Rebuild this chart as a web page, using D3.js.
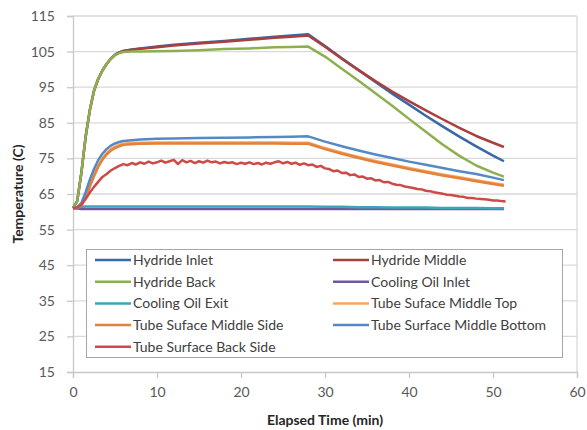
<!DOCTYPE html>
<html>
<head>
<meta charset="utf-8">
<script src="https://cdn.jsdelivr.net/npm/d3@7"></script>
<style>
  body { margin: 0; background: #fff; }
  svg text { font-family: Lato, "Liberation Sans", sans-serif; }
</style>
</head>
<body>
<svg id="chart" width="587" height="430"></svg>
<script>
// --- Data ---
const tSmooth = [0, 0.5, 1, 1.5, 2, 2.5, 3, 3.5, 4, 4.5, 5, 5.5, 6, 7, 8, 10, 12, 15, 18, 21, 24, 26, 28,
  30, 32, 34, 36, 38, 40, 42, 44, 46, 48, 50, 51.3];

const hydrideInlet = [61, 63, 71, 81, 88.5, 94, 97.3, 99.7, 101.5, 103, 104.1, 104.8, 105.2, 105.6, 105.9, 106.4,
  106.9, 107.5, 108, 108.6, 109.2, 109.5, 109.9, 106.6, 103.1, 99.8, 96.5, 93.2, 90.1, 87, 84, 81.1, 78.4, 75.8, 74.2];
const hydrideMiddle = [61, 63, 71, 81, 88.5, 94, 97.3, 99.7, 101.5, 103, 104.1, 104.8, 105.2, 105.5, 105.8, 106.2,
  106.7, 107.3, 107.8, 108.3, 108.9, 109.2, 109.5, 106.4, 103, 99.8, 96.7, 93.8, 91.1, 88.5, 86, 83.6, 81.3, 79.4, 78.2];
const hydrideBack = [61, 63, 71, 81, 88.5, 94, 97.3, 99.7, 101.5, 103, 104, 104.6, 104.9, 105, 105, 105.1,
  105.2, 105.4, 105.7, 105.9, 106.2, 106.3, 106.4, 103.6, 100.2, 96.8, 93.3, 89.8, 86.1, 82.5, 78.9, 75.7, 73, 71, 69.9];
const coolingOilInlet = [61, 60.9, 60.8, 60.8, 60.8, 60.8, 60.8, 60.8, 60.8, 60.8, 60.8, 60.8, 60.8, 60.8, 60.8, 60.8,
  60.8, 60.8, 60.8, 60.8, 60.8, 60.8, 60.8, 60.8, 60.8, 60.8, 60.8, 60.8, 60.8, 60.8, 60.8, 60.8, 60.8, 60.8, 60.8];
const coolingOilExit = [61, 61.2, 61.4, 61.5, 61.5, 61.5, 61.5, 61.5, 61.5, 61.5, 61.5, 61.5, 61.5, 61.5, 61.5, 61.5,
  61.5, 61.5, 61.5, 61.5, 61.5, 61.5, 61.5, 61.4, 61.4, 61.3, 61.3, 61.2, 61.2, 61.2, 61.1, 61.1, 61.1, 61, 61];
const tubeMidTop = [61, 61.2, 62, 64.5, 67.5, 70.5, 73, 75, 76.5, 77.6, 78.3, 78.8, 79.1, 79.3, 79.4, 79.5,
  79.5, 79.5, 79.5, 79.5, 79.5, 79.4, 79.4, 77.9, 76.6, 75.4, 74.3, 73.3, 72.3, 71.4, 70.5, 69.7, 68.9, 68.1, 67.6];
const tubeMidSide = [61, 61.1, 61.8, 64, 67, 70, 72.6, 74.6, 76.1, 77.2, 77.9, 78.4, 78.8, 79, 79.1, 79.2,
  79.2, 79.2, 79.2, 79.2, 79.2, 79.1, 79.1, 77.6, 76.3, 75.1, 74, 73, 72, 71.1, 70.2, 69.4, 68.6, 67.8, 67.3];
const tubeMidBottom = [61, 61.3, 62.5, 65.5, 69, 72, 74.5, 76.3, 77.6, 78.6, 79.2, 79.6, 79.9, 80.1, 80.3, 80.5,
  80.6, 80.7, 80.8, 80.9, 81, 81.1, 81.2, 79.7, 78.4, 77.2, 76.1, 75.1, 74.1, 73.2, 72.3, 71.4, 70.6, 69.6, 68.9];

const tNoisy = d3.range(0, 51.75, 0.5);
const tubeBackSide = [61.0, 61.2, 62.0, 63.6, 65.4, 67.0, 68.4, 69.8, 70.6, 71.6, 72.3, 72.9, 73.4, 73.1, 73.7, 73.3,
  73.9, 73.5, 74.1, 73.6, 73.9, 74.4, 73.8, 74.2, 74.6, 73.4, 74.5, 73.9, 74.3, 73.7, 74.2, 73.8, 74.4, 73.9, 74.1, 73.6,
  74.0, 73.7, 73.9, 73.4, 73.8, 73.5, 73.9, 73.4, 73.7, 73.3, 73.8, 73.5, 73.9, 74.2, 73.6, 74.0, 73.5, 73.8, 73.2, 73.6,
  73.1, 73.3, 72.6, 72.9, 72.2, 72.0, 71.4, 71.6, 70.9, 71.0, 70.3, 70.5, 69.8, 69.9, 69.3, 69.4, 68.8, 68.9, 68.3, 68.4,
  67.9, 67.6, 67.5, 67.1, 66.9, 66.7, 66.4, 66.3, 65.9, 65.8, 65.5, 65.3, 65.1, 64.8, 64.7, 64.5, 64.3, 64.2, 63.9, 63.9,
  63.7, 63.6, 63.5, 63.4, 63.2, 63.2, 63.0, 62.9];

const seriesNames = ["Hydride Inlet", "Hydride Middle", "Hydride Back", "Cooling Oil Inlet", "Cooling Oil Exit",
  "Tube Suface Middle Top", "Tube Suface Middle Side", "Tube Surface Middle Bottom", "Tube Surface Back Side"];
const seriesColors = ["#3a67a6", "#a8403e", "#8cb04e", "#6e58a0", "#3ea3bd", "#f9a45e", "#e2813b", "#5489c6", "#cd4a47"];
const seriesValues = [hydrideInlet, hydrideMiddle, hydrideBack, coolingOilInlet, coolingOilExit,
  tubeMidTop, tubeMidSide, tubeMidBottom, tubeBackSide];
const seriesTimes = [tSmooth, tSmooth, tSmooth, tSmooth, tSmooth, tSmooth, tSmooth, tSmooth, tNoisy];

const xTicks = [0, 10, 20, 30, 40, 50, 60];
const yTicks = [15, 25, 35, 45, 55, 65, 75, 85, 95, 105, 115];

// --- Layout ---
const plot = { left: 73, right: 577, top: 16, bottom: 372 };
const svg = d3.select("#chart");

const x = d3.scaleLinear().domain([0, 60]).range([plot.left, plot.right]);
const y = d3.scaleLinear().domain([15, 115]).range([plot.bottom, plot.top]);

// gridlines
svg.append("g")
  .selectAll("line")
  .data(yTicks.slice(1))
  .join("line")
  .attr("x1", plot.left)
  .attr("x2", plot.right)
  .attr("y1", (d) => y(d))
  .attr("y2", (d) => y(d))
  .attr("stroke", "#d9d9d9")
  .attr("stroke-width", 1.3);

// right border
svg.append("line")
  .attr("x1", plot.right).attr("x2", plot.right)
  .attr("y1", plot.top).attr("y2", plot.bottom)
  .attr("stroke", "#d9d9d9").attr("stroke-width", 1.3);

// axes
const yAxis = svg.append("g")
  .attr("transform", `translate(${plot.left},0)`)
  .call(d3.axisLeft(y).tickValues(yTicks).tickSize(6).tickPadding(12));
const xAxis = svg.append("g")
  .attr("transform", `translate(0,${plot.bottom})`)
  .call(d3.axisBottom(x).tickValues(xTicks).tickSize(6).tickPadding(9));

[xAxis, yAxis].forEach((g) => {
  g.select(".domain").attr("stroke", "#c8c8c8").attr("stroke-width", 1.3);
  g.selectAll(".tick line").attr("stroke", "#c8c8c8").attr("stroke-width", 1.3);
  g.selectAll(".tick text").attr("fill", "#595959").attr("font-size", "14px")
    .style("font-family", "Lato, sans-serif");
});

// lines
const line = d3.line()
  .x((d) => x(d[0]))
  .y((d) => y(d[1]));

seriesValues.forEach((vals, i) => {
  const pts = vals.map((v, j) => [seriesTimes[i][j], v]);
  svg.append("path")
    .attr("d", line(pts))
    .attr("fill", "none")
    .attr("stroke", seriesColors[i])
    .attr("stroke-width", 2.5)
    .attr("stroke-linejoin", "round");
});

// legend
const legend = svg.append("g");
legend.append("rect")
  .attr("x", 86.5).attr("y", 249.5)
  .attr("width", 476).attr("height", 108)
  .attr("fill", "#fff")
  .attr("stroke", "#a6a6a6")
  .attr("stroke-width", 1);

seriesNames.forEach((name, i) => {
  const col = i % 2;
  const row = Math.floor(i / 2);
  const lx = col === 0 ? 95 : 333;
  const ly = 260 + row * 21.7;
  legend.append("line")
    .attr("x1", lx).attr("x2", lx + 36)
    .attr("y1", ly).attr("y2", ly)
    .attr("stroke", seriesColors[i])
    .attr("stroke-width", 2.5);
  legend.append("text")
    .attr("x", lx + 38)
    .attr("y", ly)
    .attr("dy", "0.35em")
    .attr("font-size", "14px")
    .attr("fill", "#404040")
    .text(name);
});

// axis titles
svg.append("text")
  .attr("x", (plot.left + plot.right) / 2)
  .attr("y", 425)
  .attr("text-anchor", "middle")
  .attr("font-size", "14px")
  .attr("font-weight", "bold")
  .attr("fill", "#262626")
  .text("Elapsed Time (min)");

svg.append("text")
  .attr("transform", `translate(23,${(plot.top + plot.bottom) / 2}) rotate(-90)`)
  .attr("text-anchor", "middle")
  .attr("font-size", "14px")
  .attr("font-weight", "bold")
  .attr("fill", "#262626")
  .text("Temperature (C)");
</script>
</body>
</html>
